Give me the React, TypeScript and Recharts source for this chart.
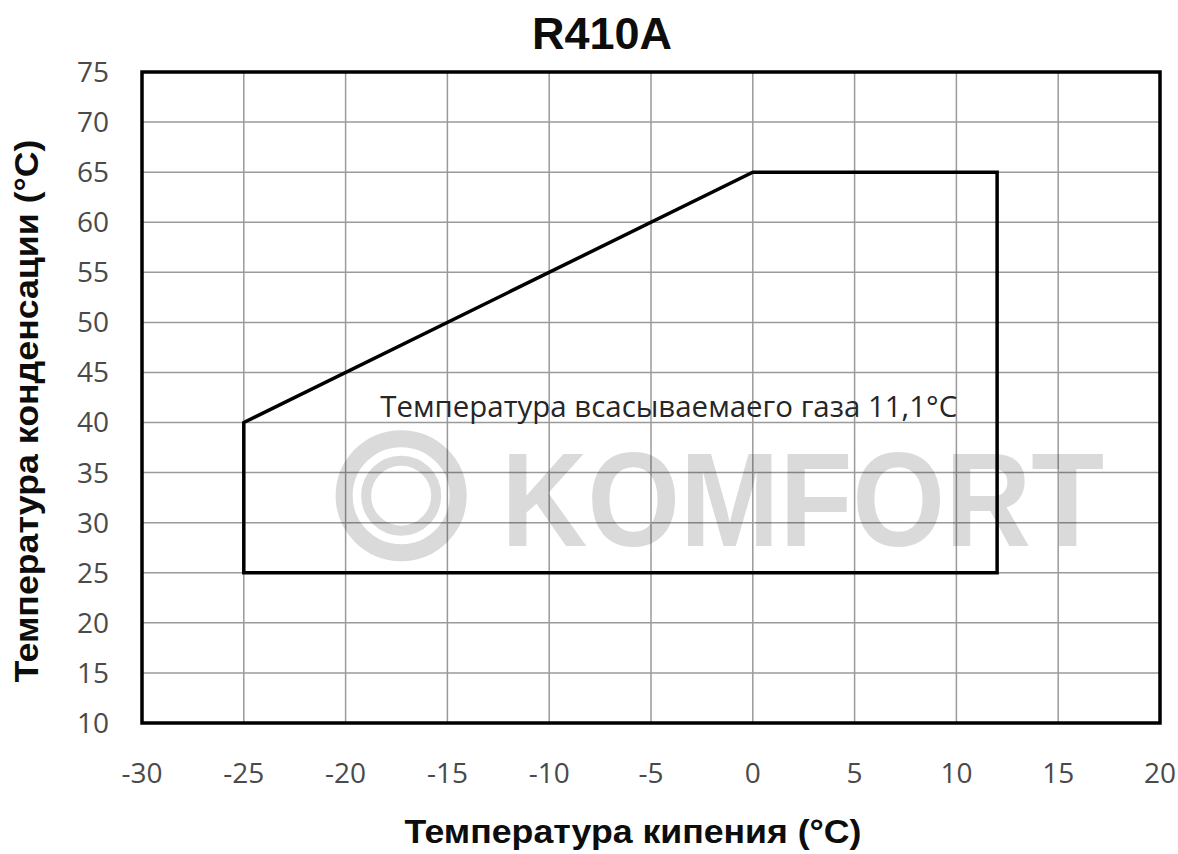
import * as React from 'react';
import {
  LineChart,
  Line,
  XAxis,
  YAxis,
  CartesianGrid,
  ReferenceArea,
  ReferenceDot,
  Customized
} from 'recharts';

// evaporating temperature ticks (°C)
const xTicks = [-30, -25, -20, -15, -10, -5, 0, 5, 10, 15, 20];
// condensing temperature ticks (°C)
const yTicks = [10, 15, 20, 25, 30, 35, 40, 45, 50, 55, 60, 65, 70, 75];

// operating envelope outline, walked in order and closed
const envelopeEvap = [-25, -25, 0, 12, 12, -25];
const envelopeCond = [25, 40, 65, 65, 25, 25];

const chartTitle = 'R410A';
const xTitle = 'Температура кипения (°C)';
const yTitle = 'Температура конденсации (°C)';
const note = 'Температура всасываемаего газа 11,1°C';

const data = envelopeEvap.map((x, i) => ({ x, y: envelopeCond[i] }));

const W = 1178;
const H = 854;
const tickStyle = { fill: '#4a4a4a', fontSize: 28, fontFamily: '"Open Sans", sans-serif' };

const NoteLabel = (props: any) => {
  const { viewBox } = props;
  return (
    <text
      x={viewBox.x}
      y={viewBox.y}
      dominantBaseline="central"
      fill="#262626"
      fontSize={29}
      fontFamily='"Open Sans", sans-serif'
      textLength={577}
      lengthAdjust="spacingAndGlyphs"
    >
      {note}
    </text>
  );
};

const Watermark = (props: any) => {
  const { viewBox } = props;
  const cx = viewBox.x;
  const cy = viewBox.y;
  return (
    <g opacity={0.14} pointerEvents="none">
      <circle cx={cx - 315} cy={cy} r={57} fill="none" stroke="#000" strokeWidth={17} />
      <circle cx={cx - 315} cy={cy} r={35} fill="none" stroke="#000" strokeWidth={10} />
      <text
        x={cx - 215}
        y={cy + 50}
        fill="#000"
        fontSize={134}
        fontWeight="bold"
        fontFamily='"Liberation Sans", Arial, sans-serif'
        textLength={603}
        lengthAdjust="spacingAndGlyphs"
      >
        KOMFORT
      </text>
    </g>
  );
};

const Titles = () => (
  <g fontFamily='"Liberation Sans", Arial, sans-serif' fontWeight="bold" fill="#0d0d0d">
    <text x={602} y={49} textAnchor="middle" fontSize={45}>{chartTitle}</text>
    <text
      x={633}
      y={843}
      textAnchor="middle"
      fontSize={34}
      textLength={457}
      lengthAdjust="spacingAndGlyphs"
    >
      {xTitle}
    </text>
    <text
      x={0}
      y={0}
      textAnchor="middle"
      fontSize={34}
      textLength={543}
      lengthAdjust="spacingAndGlyphs"
      transform="translate(38 411) rotate(-90)"
    >
      {yTitle}
    </text>
  </g>
);

export default function App() {
  return (
    <div style={{ position: 'absolute', left: 0, top: 0, width: W, height: H, background: '#fff' }}>
      <LineChart width={W} height={H} data={data} margin={{ top: 72, right: 18, left: 0, bottom: 0 }}>
        <CartesianGrid stroke="#9a9a9a" strokeWidth={1.5} />
        <XAxis
          type="number"
          dataKey="x"
          domain={[-30, 20]}
          ticks={xTicks}
          height={131}
          tickLine={false}
          tickSize={0}
          tickMargin={40}
          axisLine={false}
          tick={tickStyle}
        />
        <YAxis
          type="number"
          domain={[10, 75]}
          ticks={yTicks}
          width={142}
          tickLine={false}
          tickSize={0}
          tickMargin={33}
          axisLine={false}
          tick={tickStyle}
        />
        <ReferenceDot x={-1.8} y={32.7} r={0} fill="none" stroke="none" label={<Watermark />} />
        <ReferenceArea x1={-30} x2={20} y1={10} y2={75} fill="none" stroke="#000" strokeWidth={3.5} />
        <Line
          type="linear"
          dataKey="y"
          stroke="#000"
          strokeWidth={3.5}
          strokeLinecap="square"
          strokeLinejoin="miter"
          dot={false}
          activeDot={false}
          isAnimationActive={false}
        />
        <ReferenceDot x={-18.3} y={41.7} r={0} fill="none" stroke="none" label={<NoteLabel />} />
        <Customized component={Titles} />
      </LineChart>
    </div>
  );
}
